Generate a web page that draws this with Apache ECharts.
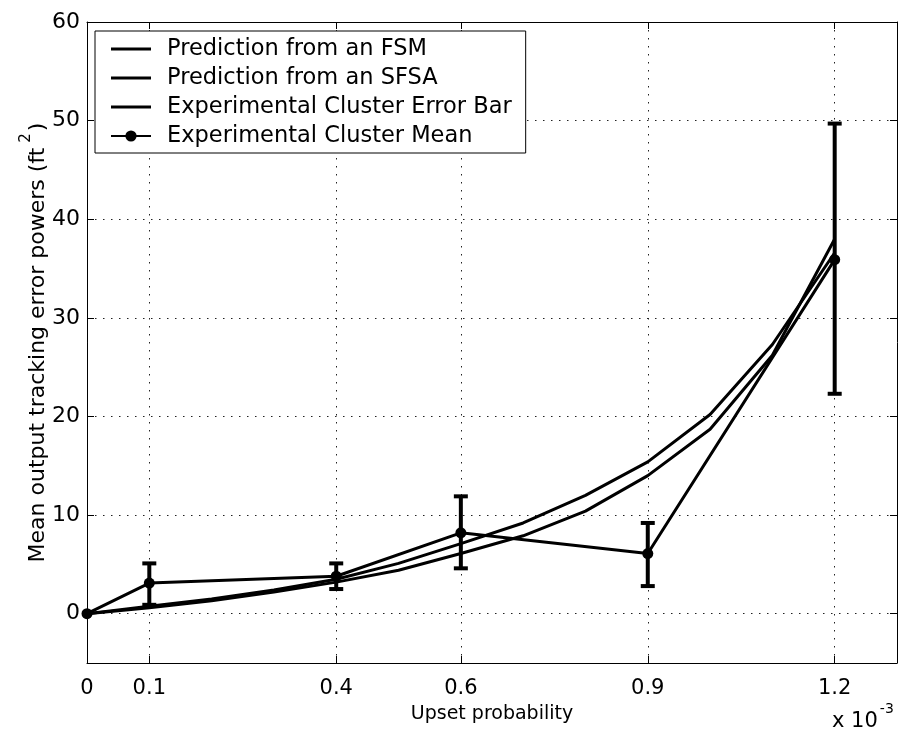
<!DOCTYPE html>
<html>
<head>
<meta charset="utf-8">
<script src="https://cdn.jsdelivr.net/npm/echarts@6/dist/echarts.min.js"></script>
<style>
  html, body { margin: 0; padding: 0; background: #fff; }
  #chart { width: 901px; height: 733px; }
</style>
</head>
<body>
<div id="chart"></div>
<script>
// Upset probability (units of 1e-3) at which the two predictions are evaluated
const predX = [0, 0.1, 0.2, 0.3, 0.4, 0.5, 0.6, 0.7, 0.8, 0.9, 1.0, 1.1, 1.2];
const fsmPower = [0, 0.75, 1.5, 2.4, 3.5, 5.1, 7.1, 9.2, 12.0, 15.4, 20.2, 27.3, 36.6];
const sfsaPower = [0, 0.6, 1.3, 2.2, 3.2, 4.4, 6.1, 7.9, 10.4, 14.0, 18.7, 26.2, 38.0];

// Experimental clusters: means and error bar extents
const expX = [0, 0.1, 0.4, 0.6, 0.9, 1.2];
const expMean = [0, 3.1, 3.8, 8.2, 6.1, 35.9];
const barX = [0.1, 0.4, 0.6, 0.9, 1.2];
const barLow = [0.9, 2.5, 4.6, 2.8, 22.3];
const barHigh = [5.1, 5.1, 11.9, 9.2, 49.7];

// Tick positions
const xTicks = [0, 0.1, 0.4, 0.6, 0.9, 1.2];
const yTicks = [0, 10, 20, 30, 40, 50, 60];

const FONT = 'DejaVu Sans, Liberation Sans, Arial, sans-serif';
const INK = '#000';

const zip = (xs, ys) => xs.map((x, i) => [x, ys[i]]);
const barData = barX.map((x, i) => [x, barLow[i], barHigh[i]]);

const dotted = { color: '#222', width: 1, type: [1.5, 6.5] };
// plain horizontal stroke used as a legend key (extra moves keep the 40x14 box)
const strokeIcon = 'path://M0,0 M0,5.5 L40,5.5 L40,8.5 L0,8.5 Z M40,14';

const chart = echarts.init(document.getElementById('chart'), null, { renderer: 'canvas' });

chart.setOption({
  animation: false,
  backgroundColor: '#fff',
  grid: { left: 87, right: 4, top: 22, bottom: 70 },
  legend: {
    orient: 'vertical',
    left: 95,
    top: 31,
    padding: [6, 14, 5, 15],
    itemWidth: 40,
    itemHeight: 14,
    itemGap: 5,
    backgroundColor: '#fff',
    borderColor: INK,
    borderWidth: 1,
    textStyle: { fontFamily: FONT, fontSize: 22.5, color: INK, lineHeight: 24, padding: [0, 0, 0, 11] },
    data: [
      { name: 'Prediction from an FSM', icon: strokeIcon },
      { name: 'Prediction from an SFSA', icon: strokeIcon },
      { name: 'Experimental Cluster Error Bar', icon: strokeIcon },
      { name: 'Experimental Cluster Mean' }
    ],
    z: 10
  },
  xAxis: [
    {
      type: 'value', min: 0, max: 1.3, position: 'bottom',
      name: 'Upset probability', nameLocation: 'middle', nameGap: 42, nameMoveOverlap: false,
      nameTextStyle: { fontFamily: FONT, fontSize: 19, color: INK },
      axisLine: { show: true, onZero: false, lineStyle: { color: INK, width: 1 } },
      axisTick: { show: true, inside: true, length: 7, customValues: xTicks, lineStyle: { color: INK } },
      axisLabel: { customValues: xTicks, fontFamily: FONT, fontSize: 21, color: INK, margin: 15 },
      splitLine: { show: true, lineStyle: dotted }
    },
    {
      type: 'value', min: 0, max: 1.3, position: 'top',
      axisLine: { show: true, onZero: false, lineStyle: { color: INK, width: 1 } },
      axisTick: { show: true, inside: true, length: 7, customValues: xTicks, lineStyle: { color: INK } },
      axisLabel: { show: false },
      splitLine: { show: false }
    }
  ],
  yAxis: [
    {
      type: 'value', min: -5, max: 60, position: 'left',
      name: '{a|Mean output tracking error powers (ft}{s|2}{a|)}',
      nameLocation: 'middle', nameGap: 38, nameRotate: 90, nameMoveOverlap: false,
      nameTextStyle: {
        fontFamily: FONT, color: INK,
        rich: {
          a: { fontFamily: FONT, fontSize: 22, color: INK, lineHeight: 30, verticalAlign: 'bottom' },
          s: { fontFamily: FONT, fontSize: 15, color: INK, lineHeight: 10, verticalAlign: 'top', padding: [0, 2, 0, 5] }
        }
      },
      axisLine: { show: true, onZero: false, lineStyle: { color: INK, width: 1 } },
      axisTick: { show: true, inside: true, length: 7, customValues: yTicks, lineStyle: { color: INK } },
      axisLabel: { customValues: yTicks, fontFamily: FONT, fontSize: 22, color: INK, margin: 7 },
      splitLine: { show: true, lineStyle: dotted }
    },
    {
      type: 'value', min: -5, max: 60, position: 'right',
      axisLine: { show: true, onZero: false, lineStyle: { color: INK, width: 1 } },
      axisTick: { show: true, inside: true, length: 7, customValues: yTicks, lineStyle: { color: INK } },
      axisLabel: { show: false },
      splitLine: { show: false }
    }
  ],
  graphic: [
    {
      type: 'text', left: 832, top: 702, z: 10,
      style: {
        text: '{a|x 10}{s|-3}',
        rich: {
          a: { fontFamily: FONT, fontSize: 21, fill: INK, lineHeight: 30, verticalAlign: 'bottom' },
          s: { fontFamily: FONT, fontSize: 14, fill: INK, lineHeight: 8, verticalAlign: 'top', padding: [0, 0, 0, 2] }
        }
      }
    }
  ],
  series: [
    {
      name: 'Prediction from an FSM', type: 'line', xAxisIndex: 0, yAxisIndex: 0,
      data: zip(predX, fsmPower), symbol: 'none', color: INK,
      lineStyle: { color: INK, width: 3 }, z: 3
    },
    {
      name: 'Prediction from an SFSA', type: 'line', xAxisIndex: 0, yAxisIndex: 0,
      data: zip(predX, sfsaPower), symbol: 'none', color: INK,
      lineStyle: { color: INK, width: 3 }, z: 3
    },
    {
      name: 'Experimental Cluster Error Bar', type: 'custom', xAxisIndex: 0, yAxisIndex: 0,
      color: INK, itemStyle: { color: INK },
      encode: { x: 0, y: [1, 2] },
      data: barData,
      renderItem: function (params, api) {
        const x = api.value(0);
        const lo = api.coord([x, api.value(1)]);
        const hi = api.coord([x, api.value(2)]);
        const half = 7;
        const st = { stroke: INK, lineWidth: 4 };
        return {
          type: 'group',
          children: [
            { type: 'line', shape: { x1: lo[0], y1: lo[1], x2: hi[0], y2: hi[1] }, style: st },
            { type: 'line', shape: { x1: lo[0] - half, y1: lo[1], x2: lo[0] + half, y2: lo[1] }, style: st },
            { type: 'line', shape: { x1: hi[0] - half, y1: hi[1], x2: hi[0] + half, y2: hi[1] }, style: st }
          ]
        };
      },
      z: 4
    },
    {
      name: 'Experimental Cluster Mean', type: 'line', xAxisIndex: 0, yAxisIndex: 0,
      data: zip(expX, expMean), symbol: 'circle', symbolSize: 11, showSymbol: true,
      color: INK, itemStyle: { color: INK },
      lineStyle: { color: INK, width: 3 }, z: 5
    }
  ]
});
</script>
</body>
</html>
